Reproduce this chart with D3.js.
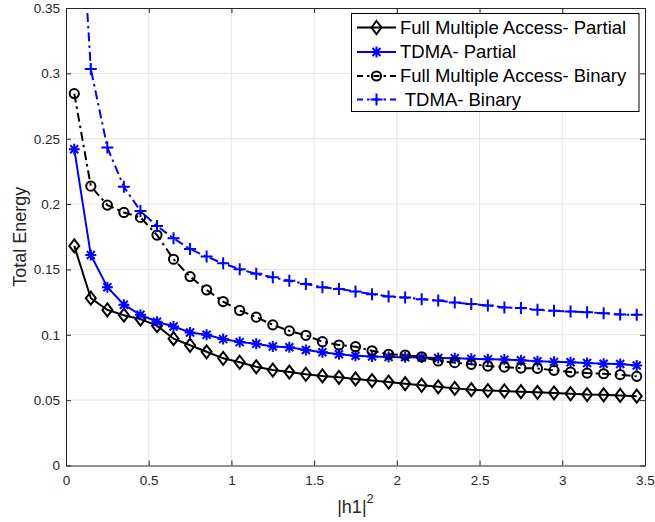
<!DOCTYPE html>
<html>
<head>
<meta charset="utf-8">
<script src="https://cdn.jsdelivr.net/npm/d3@7"></script>
<style>
  html, body { margin: 0; padding: 0; background: #fff; }
  svg { display: block; font-family: "Liberation Sans", Arial, Helvetica, sans-serif; }
</style>
</head>
<body>
<svg id="chart" width="655" height="522"></svg>
<script>
// Channel gain |h1|^2 sampled at 0.05, 0.15, ..., 3.45
const xValues = d3.range(35).map(i => +(0.05 + 0.1 * i).toFixed(2));

const fmaPartial = [0.168, 0.128, 0.119, 0.115, 0.112, 0.107, 0.097, 0.092, 0.087, 0.082,
  0.079, 0.0755, 0.073, 0.0715, 0.0698, 0.0685, 0.0675, 0.0662, 0.065, 0.0638,
  0.0626, 0.0614, 0.0602, 0.059, 0.058, 0.0573, 0.057, 0.0565, 0.056, 0.0555,
  0.0549, 0.0543, 0.0541, 0.0536, 0.053];

const tdmaPartial = [0.242, 0.161, 0.1364, 0.123, 0.1153, 0.110, 0.1064, 0.1018, 0.100, 0.0967,
  0.0944, 0.0931, 0.0911, 0.0905, 0.0884, 0.0866, 0.0851, 0.084, 0.0834, 0.083,
  0.0828, 0.0826, 0.0823, 0.082, 0.0816, 0.0812, 0.081, 0.0805, 0.0797, 0.0793,
  0.079, 0.0784, 0.0779, 0.0776, 0.0765];

const fmaBinary = [0.2845, 0.2137, 0.1992, 0.1936, 0.1898, 0.1763, 0.1578, 0.1445, 0.1343, 0.1254,
  0.1186, 0.1135, 0.1076, 0.103, 0.0996, 0.0947, 0.0922, 0.0909, 0.0878, 0.0851,
  0.0845, 0.0832, 0.080, 0.0787, 0.0774, 0.0761, 0.0753, 0.0745, 0.0743, 0.0728,
  0.0715, 0.0707, 0.0702, 0.0695, 0.0682];

const tdmaBinary = [0.51, 0.3033, 0.2433, 0.2132, 0.1947, 0.1832, 0.1738, 0.1656, 0.1598, 0.1547,
  0.1501, 0.1466, 0.144, 0.1413, 0.1389, 0.1364, 0.1351, 0.1331, 0.1311, 0.1293,
  0.1285, 0.1272, 0.1262, 0.1247, 0.1235, 0.1224, 0.1209, 0.1204, 0.1191, 0.1183,
  0.1178, 0.1173, 0.1165, 0.1155, 0.1153];

const seriesNames = ["Full Multiple Access- Partial", "TDMA- Partial",
                     "Full Multiple Access- Binary", " TDMA- Binary"];

const xTicks = [0, 0.5, 1, 1.5, 2, 2.5, 3, 3.5];
const yTicks = [0, 0.05, 0.1, 0.15, 0.2, 0.25, 0.3, 0.35];

const series = [
  { name: seriesNames[0], values: fmaPartial, color: "#000000", dash: null, marker: "diamond" },
  { name: seriesNames[1], values: tdmaPartial, color: "#0000ff", dash: null, marker: "asterisk" },
  { name: seriesNames[2], values: fmaBinary, color: "#000000", dash: "9,4,2.5,4", marker: "circle" },
  { name: seriesNames[3], values: tdmaBinary, color: "#0000ff", dash: "9,4,2.5,4", marker: "plus" }
];

const svg = d3.select("#chart");
const plot = { left: 66, right: 645, top: 8, bottom: 465.5 };
const axisColor = "#262626";

const x = d3.scaleLinear().domain([0, 3.5]).range([plot.left, plot.right]);
const y = d3.scaleLinear().domain([0, 0.35]).range([plot.bottom, plot.top]);

// Grid
const grid = svg.append("g").attr("stroke", "#e5e5e5").attr("stroke-width", 1);
grid.selectAll(".gx").data(xTicks.slice(1, -1)).join("line")
  .attr("x1", d => x(d)).attr("x2", d => x(d))
  .attr("y1", plot.top).attr("y2", plot.bottom);
grid.selectAll(".gy").data(yTicks.slice(1, -1)).join("line")
  .attr("y1", d => y(d)).attr("y2", d => y(d))
  .attr("x1", plot.left).attr("x2", plot.right);

// Axes with inward ticks on all four sides
const fmt = d => String(+d.toFixed(2));
const tickLen = 5;
const xAxisB = svg.append("g").attr("transform", `translate(0,${plot.bottom})`)
  .call(d3.axisBottom(x).tickValues(xTicks).tickFormat(fmt).tickSizeInner(-tickLen).tickSizeOuter(0).tickPadding(10));
const xAxisT = svg.append("g").attr("transform", `translate(0,${plot.top})`)
  .call(d3.axisTop(x).tickValues(xTicks).tickFormat("").tickSizeInner(-tickLen).tickSizeOuter(0));
const yAxisL = svg.append("g").attr("transform", `translate(${plot.left},0)`)
  .call(d3.axisLeft(y).tickValues(yTicks).tickFormat(fmt).tickSizeInner(-tickLen).tickSizeOuter(0).tickPadding(6));
const yAxisR = svg.append("g").attr("transform", `translate(${plot.right},0)`)
  .call(d3.axisRight(y).tickValues(yTicks).tickFormat("").tickSizeInner(-tickLen).tickSizeOuter(0));

[xAxisB, xAxisT, yAxisL, yAxisR].forEach(g => {
  g.select(".domain").attr("stroke", axisColor).attr("stroke-width", 1);
  g.selectAll(".tick line").attr("stroke", axisColor);
  g.selectAll(".tick text").attr("fill", axisColor).attr("font-size", 13.5)
    .attr("font-family", "'Liberation Sans', Arial, Helvetica, sans-serif");
});

// Axis labels
svg.append("text")
  .attr("x", (plot.left + plot.right) / 2).attr("y", 513)
  .attr("text-anchor", "middle").attr("fill", axisColor).attr("font-size", 18)
  .call(t => {
    t.append("tspan").text("|h1|");
    t.append("tspan").attr("font-size", 13).attr("dy", -10).text("2");
  });

svg.append("text")
  .attr("transform", `translate(26,${(plot.top + plot.bottom) / 2}) rotate(-90)`)
  .attr("text-anchor", "middle").attr("fill", axisColor).attr("font-size", 18)
  .text("Total Energy");

// Marker shapes
function markerPath(type) {
  switch (type) {
    case "diamond": return "M0,-6.5L5,0L0,6.5L-5,0Z";
    case "asterisk": return "M-5.5,0H5.5M0,-5.5V5.5M-4,-4L4,4M-4,4L4,-4";
    case "plus": return "M-6,0H6M0,-6V6";
    default: return null;
  }
}
function drawMarker(sel, type, color) {
  if (type === "circle") {
    sel.append("circle").attr("r", 4.6).attr("fill", "none")
      .attr("stroke", color).attr("stroke-width", 2);
  } else {
    sel.append("path").attr("d", markerPath(type)).attr("fill", "none")
      .attr("stroke", color).attr("stroke-width", 2);
  }
}

// Series
svg.append("clipPath").attr("id", "plotClip").append("rect")
  .attr("x", plot.left).attr("y", plot.top)
  .attr("width", plot.right - plot.left).attr("height", plot.bottom - plot.top);

const plotArea = svg.append("g").attr("clip-path", "url(#plotClip)");
const line = d3.line().x((d, i) => x(xValues[i])).y(d => y(d));

series.forEach(s => {
  const g = plotArea.append("g");
  g.append("path").datum(s.values)
    .attr("d", line).attr("fill", "none")
    .attr("stroke", s.color).attr("stroke-width", 2)
    .attr("stroke-dasharray", s.dash);
  g.selectAll("g.m").data(s.values).join("g")
    .attr("transform", (d, i) => `translate(${x(xValues[i])},${y(d)})`)
    .each(function () { drawMarker(d3.select(this), s.marker, s.color); });
});

// Legend
const legend = svg.append("g");
legend.append("rect")
  .attr("x", 351.5).attr("y", 13.5).attr("width", 287.5).attr("height", 98)
  .attr("fill", "#fff").attr("stroke", "#000").attr("stroke-width", 1);
const rowY = [27.5, 52, 76, 99.5];
series.forEach((s, i) => {
  const r = legend.append("g").attr("transform", `translate(0,${rowY[i]})`);
  r.append("line").attr("x1", 357).attr("x2", 396).attr("y1", 0).attr("y2", 0)
    .attr("stroke", s.color).attr("stroke-width", 2)
    .attr("stroke-dasharray", s.dash ? "6,4,2.5,4" : null);
  drawMarker(r.append("g").attr("transform", "translate(376.5,0)"), s.marker, s.color);
  r.append("text").attr("x", 400).attr("y", 0).attr("dy", "0.35em")
    .attr("font-size", 18.5).attr("fill", "#000")
    .attr("xml:space", "preserve").style("white-space", "pre")
    .text(s.name);
});
</script>
</body>
</html>
